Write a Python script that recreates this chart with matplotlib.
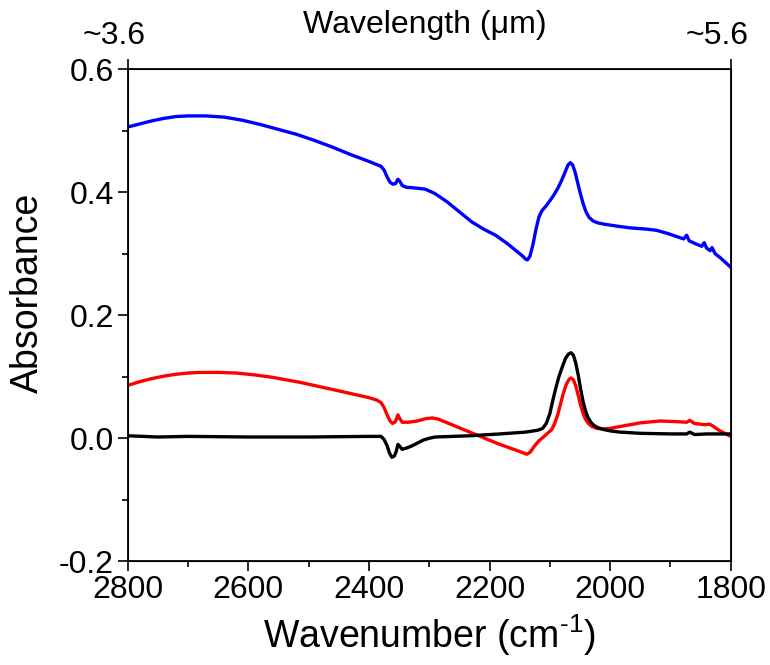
import matplotlib
matplotlib.use("Agg")
import matplotlib.pyplot as plt
from matplotlib.ticker import MultipleLocator

plt.rcParams['font.family'] = ['Liberation Sans', 'DejaVu Sans']
plt.rcParams['mathtext.default'] = 'regular'

# ----------- DATA -------------------------------------
wn_blue = [2800, 2780, 2760, 2740, 2720, 2700, 2670, 2640, 2610, 2580, 2550, 2520, 2490,
           2460, 2430, 2400, 2390, 2380, 2375, 2370, 2365, 2360, 2356, 2352, 2349, 2345,
           2338, 2325, 2307, 2291, 2270, 2250, 2230, 2210, 2190, 2170, 2155, 2145, 2140,
           2137, 2133, 2128, 2123, 2118, 2113, 2106, 2100, 2093, 2087, 2081, 2075, 2070,
           2066, 2062, 2058, 2054, 2050, 2045, 2040, 2035, 2028, 2020, 2010, 1990, 1967,
           1940, 1923, 1905, 1890, 1878, 1873, 1869, 1858, 1848, 1844, 1840, 1834, 1831,
           1826, 1818, 1810, 1800]
abs_blue = [0.506, 0.511, 0.516, 0.520, 0.523, 0.524, 0.524, 0.522, 0.517, 0.510, 0.502,
            0.494, 0.484, 0.473, 0.461, 0.450, 0.446, 0.442, 0.436, 0.425, 0.416, 0.413,
            0.414, 0.421, 0.418, 0.411, 0.408, 0.407, 0.405, 0.398, 0.384, 0.368, 0.352,
            0.340, 0.330, 0.316, 0.304, 0.296, 0.291, 0.290, 0.296, 0.315, 0.340, 0.360,
            0.370, 0.378, 0.386, 0.396, 0.406, 0.418, 0.432, 0.444, 0.448, 0.444, 0.432,
            0.416, 0.400, 0.382, 0.368, 0.359, 0.353, 0.350, 0.348, 0.345, 0.342, 0.340,
            0.338, 0.333, 0.328, 0.324, 0.330, 0.321, 0.316, 0.312, 0.318, 0.309, 0.305,
            0.310, 0.300, 0.294, 0.287, 0.278]

wn_red = [2800, 2780, 2760, 2740, 2720, 2700, 2680, 2650, 2620, 2590, 2560, 2515, 2450,
          2400, 2387, 2380, 2375, 2370, 2365, 2361, 2356, 2352, 2349, 2345, 2335, 2320,
          2305, 2295, 2285, 2270, 2233, 2183, 2160, 2138, 2132, 2125, 2118, 2113, 2105,
          2097, 2092, 2087, 2083, 2078, 2073, 2068, 2065, 2061, 2057, 2053, 2049, 2045,
          2041, 2036, 2030, 2022, 2012, 2000, 1984, 1950, 1918, 1890, 1873, 1868, 1860,
          1843, 1835, 1830, 1818, 1800]
abs_red = [0.086, 0.092, 0.097, 0.101, 0.104, 0.106, 0.107, 0.107, 0.106, 0.103, 0.099,
           0.091, 0.077, 0.066, 0.062, 0.058, 0.050, 0.038, 0.028, 0.024, 0.027, 0.038,
           0.032, 0.026, 0.026, 0.028, 0.032, 0.033, 0.031, 0.025, 0.010, -0.010, -0.018,
           -0.026, -0.022, -0.012, -0.004, 0.000, 0.007, 0.014, 0.024, 0.038, 0.053,
           0.072, 0.087, 0.096, 0.098, 0.095, 0.085, 0.070, 0.054, 0.041, 0.031, 0.024,
           0.019, 0.016, 0.015, 0.016, 0.019, 0.025, 0.028, 0.027, 0.026, 0.029, 0.024,
           0.022, 0.023, 0.020, 0.012, 0.003]

wn_black = [2800, 2750, 2700, 2600, 2500, 2400, 2380, 2375, 2370, 2366, 2362, 2358, 2355,
            2352, 2349, 2345, 2338, 2330, 2320, 2310, 2300, 2290, 2233, 2183, 2140, 2120,
            2112, 2106, 2100, 2095, 2090, 2085, 2079, 2074, 2069, 2065, 2061, 2057, 2053,
            2049, 2045, 2041, 2037, 2032, 2027, 2020, 2010, 2000, 1984, 1950, 1900, 1873,
            1868, 1860, 1840, 1800]
abs_black = [0.004, 0.002, 0.003, 0.002, 0.002, 0.003, 0.003, -0.002, -0.012, -0.024,
             -0.031, -0.029, -0.022, -0.010, -0.013, -0.018, -0.016, -0.013, -0.008,
             -0.003, 0.000, 0.002, 0.004, 0.007, 0.010, 0.013, 0.016, 0.024, 0.040, 0.062,
             0.082, 0.100, 0.117, 0.130, 0.137, 0.139, 0.135, 0.122, 0.103, 0.080, 0.060,
             0.045, 0.034, 0.026, 0.021, 0.017, 0.014, 0.012, 0.010, 0.008, 0.007, 0.007,
             0.010, 0.006, 0.007, 0.007]

top_ticks = [2800, 1800]
top_labels = ['~3.6', '~5.6']

# ----------- PLOT ------------
fig = plt.figure(figsize=(7.7, 6.65), dpi=100)
ax = fig.add_axes([0.166, 0.156, 0.783, 0.740])

ax.plot(wn_blue, abs_blue, color='blue', lw=2.4)
ax.plot(wn_red, abs_red, color='red', lw=2.4)
ax.plot(wn_black, abs_black, color='black', lw=2.4)

ax.set_xlim(2800, 1800)
ax.set_ylim(-0.2, 0.6)
ax.xaxis.set_major_locator(MultipleLocator(200))
ax.xaxis.set_minor_locator(MultipleLocator(100))
ax.yaxis.set_major_locator(MultipleLocator(0.2))
ax.yaxis.set_minor_locator(MultipleLocator(0.1))
ax.yaxis.set_major_formatter(plt.FuncFormatter(lambda v, p: f'{v:.1f}'))
ax.tick_params(which='major', direction='out', length=7, width=1.2, labelsize=23, pad=3)
ax.tick_params(which='minor', direction='out', length=4, width=1.2)
for s in ax.spines.values():
    s.set_linewidth(1.3)

ax.text(0.5, -0.150, 'Wavenumber (cm$^{\u2010 1}$)', transform=ax.transAxes,
        ha='center', va='center', fontsize=27)
ax.text(-0.166, 0.545, 'Absorbance', transform=ax.transAxes, rotation=90,
        ha='center', va='center', fontsize=27)

# top axis: only the two end ticks, wavelength labels
ax2 = ax.twiny()
ax2.set_xlim(ax.get_xlim())
ax2.set_xticks(top_ticks)
ax2.set_xticklabels(['', ''])
ax2.tick_params(direction='out', length=7, width=1.2)
for xpos, lab in zip([-0.023, 0.977], top_labels):
    ax.text(xpos, 1.067, lab, transform=ax.transAxes, ha='center', va='center', fontsize=23)
ax.text(0.493, 1.089, 'Wavelength (\u03bcm)', transform=ax.transAxes,
        ha='center', va='center', fontsize=23)

fig.savefig('out.png', dpi=100)
